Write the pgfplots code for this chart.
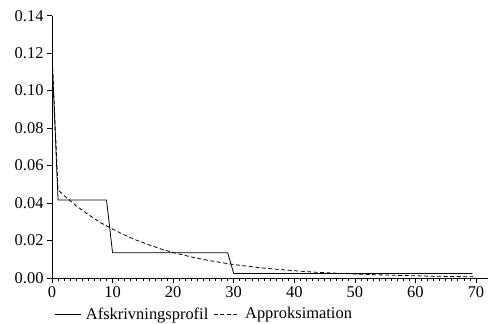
\documentclass[border=0pt]{standalone}
\usepackage{fontspec}
\setmainfont{Liberation Serif}
\usepackage{pgfplots}
\pgfplotsset{compat=1.18}
\begin{document}
\begin{tikzpicture}[font=\fontsize{16.5}{19}\selectfont]
\useasboundingbox (0,0) rectangle (488bp,324bp);
\begin{axis}[
  scale only axis,
  width=424bp, height=262.3bp,
  at={(52bp,46bp)}, anchor=south west,
  xmin=0, xmax=70, ymin=0, ymax=0.14,
  axis lines*=left,
  x axis line style={shorten >=-12bp},
  axis line style={line width=0.8bp},
  xtick={0,10,...,70},
  ytick={0,0.02,...,0.14},
  minor x tick num=9,
  tick align=outside,
  major tick length=5bp,
  minor tick length=2.5bp,
  every tick/.style={black, line width=0.7bp},
  /pgf/number format/assume math mode=true,
  yticklabel style={/pgf/number format/.cd, fixed, fixed zerofill, precision=2},
  xticklabel style={/pgf/number format/fixed},
  scaled y ticks=false,
  legend columns=2,
  legend style={draw=none, fill=none, at={(rel axis cs:0,0)}, anchor=west, yshift=-36bp, xshift=1bp,
    font=\fontsize{16.5}{19}\selectfont, column sep=3bp, inner xsep=1bp},
  legend cell align=left,
  legend image code/.code={\draw[#1] (0bp,0bp) -- (26bp,0bp);},
]
\addplot[black, line width=0.8bp] coordinates {
(0,0.119) (1,0.0416) (9,0.0416) (10,0.0135) (29,0.0135) (30,0.0024) (69.4,0.0024)
};
\addlegendentry{Afskrivningsprofil}
\addplot[black, line width=0.8bp, dash pattern=on 4bp off 2.5bp] coordinates {
(0,0.119) (1,0.0470) (2,0.0440) (4,0.0385) (6,0.0338) (8,0.0296) (10,0.0261)
(12,0.0229) (14,0.0201) (16,0.0177) (18,0.0155) (20,0.0136) (22,0.0120)
(24,0.0105) (26,0.0093) (28,0.0082) (30,0.0072) (32,0.0064) (34,0.0056)
(36,0.0050) (38,0.0044) (40,0.0039) (42,0.0034) (44,0.0030) (46,0.0027)
(48,0.0024) (50,0.0021) (52,0.0019) (54,0.0017) (56,0.0015) (58,0.0013)
(60,0.0012) (62,0.0010) (64,0.0009) (66,0.0008) (68,0.0007) (70,0.0006)
};
\addlegendentry{Approksimation}
\end{axis}
\end{tikzpicture}
\end{document}
